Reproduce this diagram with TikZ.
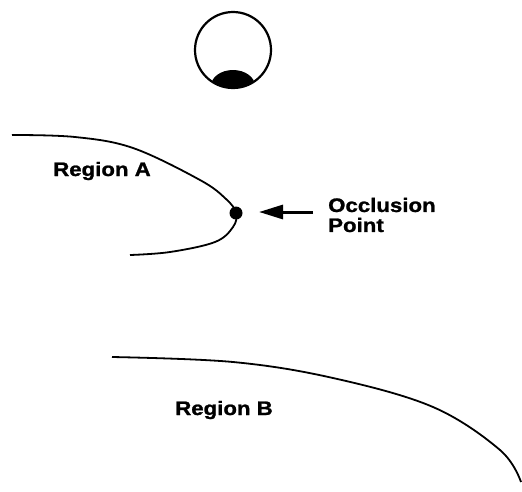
\documentclass[tikz,border=0pt]{standalone}
\usepackage{fontspec}
\setmainfont[FakeStretch=1.14,FakeBold=1.2]{Liberation Sans}
\usetikzlibrary{arrows.meta}
\tikzset{
  lbl/.style={font=\bfseries\fontsize{19.5}{20}\selectfont, inner sep=0pt},
  edge/.style={line width=1.8pt}
}
\begin{document}
\begin{tikzpicture}[x=1pt,y=-1pt]
  \useasboundingbox (0,0) rectangle (522,491);
  % eye with its dark spot
  \begin{scope}
    \clip (233,50) circle (38);
    \fill (233,86) ellipse (22 and 16);
  \end{scope}
  \draw[line width=2.2pt] (233,50) circle (38);
  % region A and the occlusion point
  \draw[edge] plot[smooth,tension=0.6] coordinates {(12,135) (75,137) (133,148) (200,180) (226,199) (236,213) (233,227) (215,242) (170,252) (130,255)};
  \fill (236,213) circle (6.5) coordinate (dot);
  \node[lbl] (regA) at (102,171) {Region A};
  \node[lbl,align=left,anchor=west] (occl) at (328,215) {Occlusion\\Point};
  \draw[line width=3pt,-{Triangle[length=24pt,width=14pt]}] (313,212) -- (259,212);
  % region B
  \draw[edge] plot[smooth,tension=0.6] coordinates {(112,357) (233,362) (333,378) (433,407) (500,450) (521,482)};
  \node[lbl] (regB) at (224,410) {Region B};
\end{tikzpicture}
\end{document}
